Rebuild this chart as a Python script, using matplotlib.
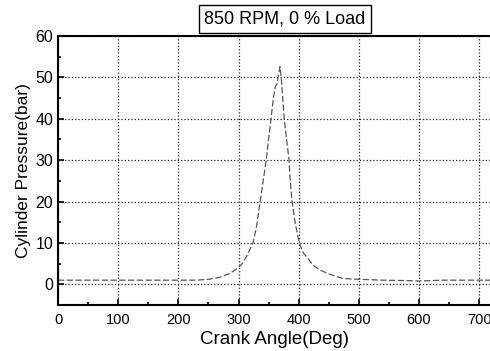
import matplotlib.pyplot as plt
from matplotlib.ticker import MultipleLocator

# crank angle (deg) and cylinder pressure (bar)
ANGLE = [0, 50, 100, 150, 200, 230, 250, 269, 285, 299, 308, 316, 324, 330,
         336, 341, 346, 350, 354, 358, 361, 364, 367, 369, 371, 374, 376, 380,
         384, 386, 389, 394, 401, 408, 414, 424, 436, 447, 460, 474, 502, 540,
         580, 600, 640, 680, 718]
PRESSURE = [1.0, 1.0, 1.0, 1.0, 1.0, 1.0, 1.2, 1.7, 2.6, 3.9, 5.3, 7.5, 10, 14,
            20, 25, 30, 35, 40, 45, 47.7, 48.5, 51, 52.6, 50, 44, 40, 35,
            30, 25, 20, 15, 10, 7.5, 6.5, 4.6, 3.4, 2.7, 2.0, 1.4, 1.2, 1.0,
            0.9, 0.8, 1.0, 1.0, 1.0]

X_TICKS = [0, 100, 200, 300, 400, 500, 600, 700]
Y_TICKS = [0, 10, 20, 30, 40, 50, 60]
TITLE = "850 RPM, 0 % Load"

plt.rcParams.update({
    "font.family": ["Liberation Sans", "DejaVu Sans"],
    "font.size": 11,
})

fig = plt.figure(figsize=(4.9, 3.51), dpi=100)
ax = fig.add_axes([58 / 490, 46 / 351, 432 / 490, 269 / 351])

ax.plot(ANGLE, PRESSURE, color="#555555", linewidth=0.9,
        linestyle=(0, (5, 2)))

ax.set_xlim(0, 718)
ax.set_ylim(-5, 60)
ax.set_xticks(X_TICKS)
ax.set_yticks(Y_TICKS)
ax.xaxis.set_minor_locator(MultipleLocator(50))
ax.yaxis.set_minor_locator(MultipleLocator(5))
ax.tick_params(which="both", direction="in", width=1.2)
ax.tick_params(which="major", length=4)
ax.tick_params(axis="y", which="major", labelsize=11.5)
ax.tick_params(axis="x", which="major", pad=6, labelsize=10.5)
ax.tick_params(which="minor", length=2.5)

ax.grid(True, which="major", color="#222222", linestyle=":", linewidth=0.9)

for side in ["left", "bottom", "top"]:
    ax.spines[side].set_linewidth(1.5)
ax.spines["right"].set_visible(False)

ax.set_xlabel("Crank Angle(Deg)", fontsize=13.5, labelpad=3)
ax.set_ylabel("Cylinder Pressure(bar)", fontsize=12.5, labelpad=3)

fig.text(285 / 490, 1 - 19 / 351, TITLE, ha="center", va="center",
         fontsize=13,
         bbox=dict(boxstyle="square,pad=0.3", facecolor="white",
                   edgecolor="black", linewidth=1.0))

fig.savefig("out.png", dpi=100)
